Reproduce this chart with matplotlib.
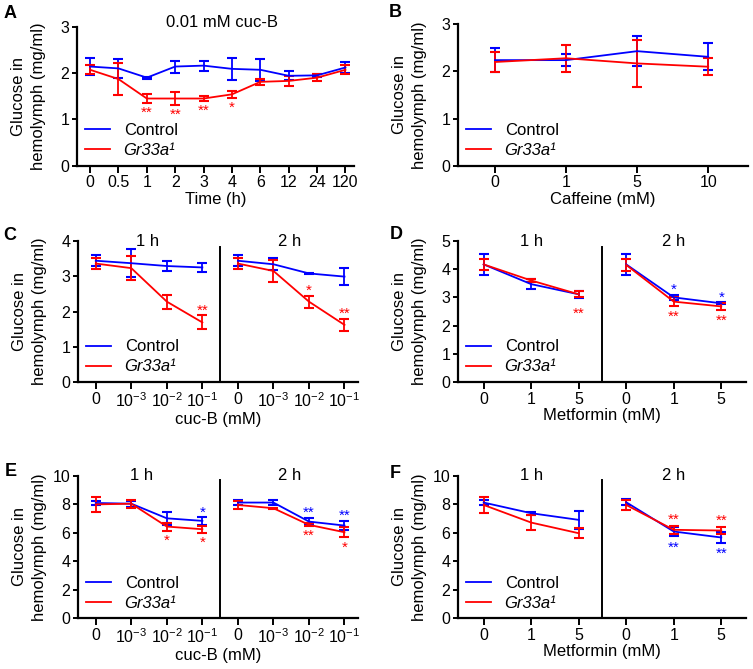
import matplotlib
matplotlib.use('Agg')
import matplotlib.pyplot as plt
from matplotlib.transforms import blended_transform_factory, offset_copy

plt.rcParams['font.family'] = ['Liberation Sans', 'DejaVu Sans']
plt.rcParams['mathtext.fontset'] = 'custom'
plt.rcParams['mathtext.rm'] = 'Liberation Sans'
plt.rcParams['mathtext.it'] = 'Liberation Sans:italic'
plt.rcParams['mathtext.default'] = 'regular'

BLUE = '#0000ff'
RED = '#ff0000'
FS = 12      # labels / legend / titles
TFS = 11.5   # tick labels
W, H = 753, 669

# ---------------- data ----------------
# Panel A : time course, 0.01 mM cuc-B
a_times = ['0', '0.5', '1', '2', '3', '4', '6', '12', '24', '120']
a_ctrl = [2.14, 2.10, 1.90, 2.14, 2.16, 2.09, 2.07, 1.94, 1.95, 2.12]
a_ctrl_err = [0.18, 0.20, 0.02, 0.13, 0.11, 0.23, 0.24, 0.10, 0.03, 0.11]
a_mut = [2.07, 1.87, 1.45, 1.45, 1.45, 1.54, 1.81, 1.83, 1.90, 2.07]
a_mut_err = [0.10, 0.34, 0.09, 0.15, 0.06, 0.08, 0.07, 0.10, 0.08, 0.10]
a_mut_sig = ['', '', '**', '**', '**', '*', '', '', '', '']

# Panel B : caffeine
b_doses = ['0', '1', '5', '10']
b_ctrl = [2.24, 2.24, 2.43, 2.31]
b_ctrl_err = [0.25, 0.12, 0.32, 0.29]
b_mut = [2.20, 2.28, 2.17, 2.10]
b_mut_err = [0.21, 0.29, 0.50, 0.18]

# Panel C : cuc-B doses, 1 h / 2 h
c_doses = ['0', '$10^{-3}$', '$10^{-2}$', '$10^{-1}$']
c_ctrl_1h = [3.44, 3.37, 3.29, 3.25]
c_ctrl_1h_err = [0.16, 0.40, 0.15, 0.14]
c_mut_1h = [3.36, 3.23, 2.28, 1.69]
c_mut_1h_err = [0.16, 0.35, 0.20, 0.20]
c_ctrl_2h = [3.44, 3.34, 3.08, 2.99]
c_ctrl_2h_err = [0.15, 0.17, 0.02, 0.23]
c_mut_2h = [3.36, 3.15, 2.28, 1.62]
c_mut_2h_err = [0.16, 0.30, 0.17, 0.17]
c_mut_1h_sig = ['', '', '', '**']
c_mut_2h_sig = ['', '', '*', '**']

# Panel D : metformin, 1 h / 2 h
d_doses = ['0', '1', '5']
d_ctrl_1h = [4.17, 3.47, 3.11]
d_ctrl_1h_err = [0.38, 0.18, 0.13]
d_mut_1h = [4.17, 3.60, 3.11]
d_mut_1h_err = [0.20, 0.06, 0.10]
d_ctrl_2h = [4.17, 3.00, 2.79]
d_ctrl_2h_err = [0.38, 0.08, 0.03]
d_mut_2h = [4.15, 2.85, 2.68]
d_mut_2h_err = [0.20, 0.17, 0.12]
d_mut_1h_sig = ['', '', '**']
d_ctrl_2h_sig = ['', '*', '*']
d_mut_2h_sig = ['', '**', '**']

# Panel E : cuc-B doses, 1 h / 2 h
e_doses = ['0', '$10^{-3}$', '$10^{-2}$', '$10^{-1}$']
e_ctrl_1h = [8.10, 8.05, 7.02, 6.84]
e_ctrl_1h_err = [0.15, 0.20, 0.45, 0.29]
e_mut_1h = [8.00, 8.05, 6.44, 6.25]
e_mut_1h_err = [0.50, 0.28, 0.28, 0.25]
e_ctrl_2h = [8.13, 8.13, 6.79, 6.51]
e_ctrl_2h_err = [0.18, 0.15, 0.27, 0.30]
e_mut_2h = [7.96, 7.73, 6.56, 6.04]
e_mut_2h_err = [0.30, 0.05, 0.10, 0.37]
e_ctrl_1h_sig = ['', '', '', '*']
e_mut_1h_sig = ['', '', '*', '*']
e_ctrl_2h_sig = ['', '', '**', '**']
e_mut_2h_sig = ['', '', '**', '*']

# Panel F : metformin, 1 h / 2 h
f_doses = ['0', '1', '5']
f_ctrl_1h = [8.13, 7.38, 6.91]
f_ctrl_1h_err = [0.18, 0.10, 0.63]
f_mut_1h = [7.96, 6.72, 5.97]
f_mut_1h_err = [0.54, 0.55, 0.35]
f_ctrl_2h = [8.15, 6.09, 5.67]
f_ctrl_2h_err = [0.20, 0.35, 0.36]
f_mut_2h = [7.96, 6.21, 6.16]
f_mut_2h_err = [0.32, 0.30, 0.22]
f_ctrl_2h_sig = ['', '**', '**']
f_mut_2h_sig = ['', '**', '**']

labels = ['Control', 'Gr33a\u00b9']
ylabel_lines = ['Glucose in', 'hemolymph (mg/ml)']

# ---------------- helpers ----------------
fig = plt.figure(figsize=(W / 100, H / 100), dpi=100)


def make_ax(l, r, t, b):
    return fig.add_axes([l / W, 1 - b / H, (r - l) / W, (b - t) / H])


def style(ax, ylim, yticks, xlim):
    ax.set_ylim(*ylim)
    ax.set_yticks(yticks)
    ax.set_xlim(*xlim)
    for s in ['top', 'right']:
        ax.spines[s].set_visible(False)
    for s in ['left', 'bottom']:
        ax.spines[s].set_linewidth(1.6)
    ax.tick_params(axis='x', length=5, width=1.4, pad=2, labelsize=TFS)
    ax.tick_params(axis='y', length=3.5, width=1.4, pad=2, labelsize=TFS)
    # two-line y label, each line placed left of the spine
    for txt, dx_px in zip(ylabel_lines, [-59, -39]):
        tr = offset_copy(ax.transAxes, fig=fig, x=dx_px / 1.389 * 1.0,
                         y=0, units='points')
        ax.text(0, 0.5, txt, transform=tr, rotation=90, ha='center',
                va='center', fontsize=FS, rotation_mode='anchor')


def series(ax, x, y, e, color):
    ax.errorbar(x, y, yerr=e, color=color, lw=1.3, elinewidth=1.3,
                capsize=3.5, capthick=1.5, zorder=3)


def stars(ax, x, y, e, sig, color, side, off_px=8):
    fs = 11
    gc = 0.38 * fs          # approximate height of the asterisk glyph centre
    off = off_px / 1.389    # pixels -> points
    for xi, yi, ei, s in zip(x, y, e, sig):
        if not s:
            continue
        if side == 'above':
            dy = off - gc
            yy = yi + ei
        else:
            dy = -off - gc
            yy = yi - ei
        ax.annotate(s, (xi, yy), xytext=(0, dy), textcoords='offset points',
                    ha='center', va='baseline', fontsize=fs, color=color)


def legend(ax):
    leg = ax.legend(labels, loc='lower left', bbox_to_anchor=(0.0, 0.0),
                    frameon=False, fontsize=FS, handlelength=1.5,
                    handletextpad=0.85, labelspacing=0.3, borderpad=0.25,
                    borderaxespad=0.2)
    leg.get_texts()[1].set_style('italic')


def letter(x, y, s):
    fig.text(x / W, 1 - y / H, s, fontsize=13, fontweight='bold',
             ha='left', va='baseline')


# ---------------- Panel A ----------------
axA = make_ax(77, 354, 26.7, 165.7)
xa = list(range(len(a_times)))
axA.plot([], [], color=BLUE, lw=1.3)
axA.plot([], [], color=RED, lw=1.3)
series(axA, xa, a_ctrl, a_ctrl_err, BLUE)
series(axA, xa, a_mut, a_mut_err, RED)
stars(axA, xa, a_mut, a_mut_err, a_mut_sig, RED, 'below', 8)
style(axA, (0, 3), [0, 1, 2, 3], (-0.46, 9.3))
axA.set_xticks(xa)
axA.set_xticklabels(a_times)
axA.set_xlabel('Time (h)', fontsize=FS, labelpad=1)
axA.text(0.523, 1.03, '0.01 mM cuc-B', transform=axA.transAxes, ha='center',
         va='center', fontsize=FS)
legend(axA)
letter(4, 18, 'A')

# ---------------- Panel B ----------------
axB = make_ax(458, 748, 24.3, 165.7)
xb = list(range(len(b_doses)))
axB.plot([], [], color=BLUE, lw=1.3)
axB.plot([], [], color=RED, lw=1.3)
series(axB, xb, b_ctrl, b_ctrl_err, BLUE)
series(axB, xb, b_mut, b_mut_err, RED)
style(axB, (0, 3), [0, 1, 2, 3], (-0.52, 3.56))
axB.set_xticks(xb)
axB.set_xticklabels(b_doses)
axB.set_xlabel('Caffeine (mM)', fontsize=FS, labelpad=1)
legend(axB)
letter(389, 17, 'B')


# ---------------- split panels ----------------
def split_panel(ax, doses, c1, c1e, m1, m1e, c2, c2e, m2, m2e, ylim, yticks,
                xlim, xlabel, sigs, top_frac):
    n = len(doses)
    x1 = list(range(n))
    x2 = [i + n for i in range(n)]
    ax.plot([], [], color=BLUE, lw=1.3)
    ax.plot([], [], color=RED, lw=1.3)
    series(ax, x1, c1, c1e, BLUE)
    series(ax, x2, c2, c2e, BLUE)
    series(ax, x1, m1, m1e, RED)
    series(ax, x2, m2, m2e, RED)
    xs = {'c1': (x1, c1, c1e, BLUE), 'm1': (x1, m1, m1e, RED),
          'c2': (x2, c2, c2e, BLUE), 'm2': (x2, m2, m2e, RED)}
    for key, sig, side, off in sigs:
        xx, yy, ee, col = xs[key]
        stars(ax, xx, yy, ee, sig, col, side, off)
    style(ax, ylim, yticks, xlim)
    ax.axvline(n - 0.5, ymin=0, ymax=top_frac, color='black', lw=1.4)
    ax.set_xticks(x1 + x2)
    ax.set_xticklabels(doses + doses)
    ax.set_xlabel(xlabel, fontsize=FS, labelpad=1)
    legend(ax)


axC = make_ax(78, 358, 241, 382)
split_panel(axC, c_doses, c_ctrl_1h, c_ctrl_1h_err, c_mut_1h, c_mut_1h_err,
            c_ctrl_2h, c_ctrl_2h_err, c_mut_2h, c_mut_2h_err,
            (0, 4), [0, 1, 2, 3, 4], (-0.5, 7.38), 'cuc-B (mM)',
            [('m1', c_mut_1h_sig, 'above', 6), ('m2', c_mut_2h_sig, 'above', 7)],
            0.96)
axC.text(1.45, 4.0, '1 h', ha='center', va='center', fontsize=FS)
axC.text(5.45, 4.0, '2 h', ha='center', va='center', fontsize=FS)
letter(3, 240, 'C')

axD = make_ax(458, 746, 241, 382)
split_panel(axD, d_doses, d_ctrl_1h, d_ctrl_1h_err, d_mut_1h, d_mut_1h_err,
            d_ctrl_2h, d_ctrl_2h_err, d_mut_2h, d_mut_2h_err,
            (0, 5), [0, 1, 2, 3, 4, 5], (-0.54, 5.52), 'Metformin (mM)',
            [('m1', d_mut_1h_sig, 'below', 15), ('c2', d_ctrl_2h_sig, 'above', 7),
             ('m2', d_mut_2h_sig, 'below', 9)],
            0.96)
axD.text(1.0, 5.0, '1 h', ha='center', va='center', fontsize=FS)
axD.text(4.0, 5.0, '2 h', ha='center', va='center', fontsize=FS)
letter(390, 239, 'D')

axE = make_ax(78, 358, 476, 618)
split_panel(axE, e_doses, e_ctrl_1h, e_ctrl_1h_err, e_mut_1h, e_mut_1h_err,
            e_ctrl_2h, e_ctrl_2h_err, e_mut_2h, e_mut_2h_err,
            (0, 10), [0, 2, 4, 6, 8, 10], (-0.5, 7.38), 'cuc-B (mM)',
            [('c1', e_ctrl_1h_sig, 'above', 6), ('m1', e_mut_1h_sig, 'below', 8),
             ('c2', e_ctrl_2h_sig, 'above', 7), ('m2', e_mut_2h_sig, 'below', 8)],
            0.97)
axE.text(1.3, 10.0, '1 h', ha='center', va='center', fontsize=FS)
axE.text(5.45, 10.0, '2 h', ha='center', va='center', fontsize=FS)
letter(5, 476, 'E')

axF = make_ax(458, 746, 476, 618)
split_panel(axF, f_doses, f_ctrl_1h, f_ctrl_1h_err, f_mut_1h, f_mut_1h_err,
            f_ctrl_2h, f_ctrl_2h_err, f_mut_2h, f_mut_2h_err,
            (0, 10), [0, 2, 4, 6, 8, 10], (-0.54, 5.52), 'Metformin (mM)',
            [('m2', f_mut_2h_sig, 'above', 8), ('c2', f_ctrl_2h_sig, 'below', 9)],
            0.97)
axF.text(1.0, 10.0, '1 h', ha='center', va='center', fontsize=FS)
axF.text(4.0, 10.0, '2 h', ha='center', va='center', fontsize=FS)
letter(390, 478, 'F')

fig.savefig('out.png', dpi=100)
